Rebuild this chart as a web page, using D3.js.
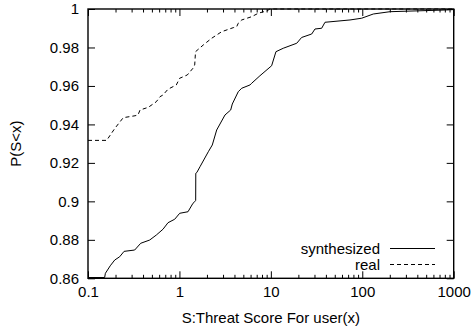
<!DOCTYPE html>
<html>
<head>
<meta charset="utf-8">
<script src="https://cdn.jsdelivr.net/npm/d3@7"></script>
<style>
  body { margin: 0; background: #fff; }
  text { font-family: "Liberation Sans", Arial, Helvetica, sans-serif; fill: #000; }
</style>
</head>
<body>
<div id="chart"></div>
<script>
// data: [score, P(S<x)]
const synthesized = [
  [0.1, 0.8604], [0.152, 0.8604], [0.155, 0.8626], [0.175, 0.8665], [0.196, 0.8695],
  [0.222, 0.8712], [0.248, 0.874], [0.324, 0.8747], [0.377, 0.8782], [0.473, 0.8799],
  [0.559, 0.8825], [0.661, 0.8855], [0.75, 0.8889], [0.888, 0.8907], [1.007, 0.8938],
  [1.241, 0.8946], [1.407, 0.899], [1.469, 0.8998], [1.506, 0.9005], [1.51, 0.9146],
  [1.55, 0.9150], [1.679, 0.918], [2.07, 0.9258], [2.288, 0.9293], [2.556, 0.9371],
  [3.15, 0.9449], [3.637, 0.9475], [3.787, 0.9506], [4.4, 0.957], [4.8, 0.9588],
  [5.91, 0.9605], [6.17, 0.9614], [7.6, 0.9653], [10.2, 0.9705], [11.37, 0.9778],
  [13.68, 0.9796], [19.2, 0.9822], [21.7, 0.9852], [27.97, 0.987], [30.4, 0.9896],
  [35.97, 0.99], [39.1, 0.9931], [73.4, 0.9943], [98.5, 0.9952], [131.9, 0.9974],
  [200.9, 0.9986], [837.8, 0.9995], [1000, 0.9997]
];
const real = [
  [0.1, 0.9317], [0.16, 0.9317], [0.197, 0.938], [0.243, 0.9435], [0.327, 0.9445],
  [0.352, 0.9449], [0.371, 0.9475], [0.457, 0.9489], [0.559, 0.9518], [0.613, 0.9544],
  [0.661, 0.9553], [0.75, 0.9583], [0.924, 0.9605], [1.007, 0.964], [1.219, 0.9657],
  [1.407, 0.9692], [1.469, 0.9709], [1.5, 0.9778], [1.824, 0.9813], [2.254, 0.9848],
  [2.9, 0.9882], [3.88, 0.9903], [4.23, 0.9908], [4.4, 0.9926], [4.8, 0.9943],
  [6.17, 0.996], [7.29, 0.9978], [8.995, 0.999], [9.78, 1.0], [1000, 1.0]
];
const xMajor = [0.1, 1, 10, 100, 1000];
const yTicks = [0.86, 0.88, 0.9, 0.92, 0.94, 0.96, 0.98, 1];
const seriesNames = ["synthesized", "real"];

const W = 474, H = 331;
const m = {left: 88, right: 20.3, top: 9, bottom: 52.7};

const svg = d3.select("#chart").append("svg")
  .attr("width", W).attr("height", H);

const x = d3.scaleLog().domain([0.1, 1000]).range([m.left, W - m.right]);
const y = d3.scaleLinear().domain([0.86, 1]).range([H - m.bottom, m.top]);

// minor ticks 2..9 per decade
const xMinor = [];
xMajor.slice(0, -1).forEach(function (d) {
  for (let k = 2; k < 10; k++) xMinor.push(d * k);
});

const fmt = d => d3.format("~g")(d);
const fontSize = "15px";

function noDomain(g) { g.select(".domain").remove(); }

// bottom axis
svg.append("g")
  .attr("transform", "translate(0," + y.range()[0] + ")")
  .call(d3.axisBottom(x).tickValues(xMajor).tickFormat(fmt).tickSize(-7).tickPadding(8))
  .call(noDomain)
  .call(g => g.selectAll("text").style("font-size", fontSize).attr("font-family", null));
svg.append("g")
  .attr("transform", "translate(0," + y.range()[0] + ")")
  .call(d3.axisBottom(x).tickValues(xMinor).tickFormat("").tickSize(-3.5))
  .call(noDomain);
// top mirror
svg.append("g")
  .attr("transform", "translate(0," + m.top + ")")
  .call(d3.axisTop(x).tickValues(xMajor).tickFormat("").tickSize(-7))
  .call(noDomain);
svg.append("g")
  .attr("transform", "translate(0," + m.top + ")")
  .call(d3.axisTop(x).tickValues(xMinor).tickFormat("").tickSize(-3.5))
  .call(noDomain);
// left axis
svg.append("g")
  .attr("transform", "translate(" + m.left + ",0)")
  .call(d3.axisLeft(y).tickValues(yTicks).tickFormat(fmt).tickSize(-7).tickPadding(9))
  .call(noDomain)
  .call(g => g.selectAll("text").style("font-size", fontSize).attr("font-family", null));
// right mirror
svg.append("g")
  .attr("transform", "translate(" + (W - m.right) + ",0)")
  .call(d3.axisRight(y).tickValues(yTicks).tickFormat("").tickSize(-7))
  .call(noDomain);

svg.selectAll(".tick line").attr("stroke", "#000").attr("stroke-width", 1);

// frame
svg.append("rect")
  .attr("x", m.left).attr("y", m.top)
  .attr("width", W - m.right - m.left).attr("height", H - m.bottom - m.top)
  .attr("fill", "none").attr("stroke", "#000").attr("stroke-width", 1.4);

const line = d3.line().x(d => x(d[0])).y(d => y(d[1]));

svg.append("path").datum(synthesized)
  .attr("d", line).attr("fill", "none").attr("stroke", "#000").attr("stroke-width", 1);
svg.append("path").datum(real)
  .attr("d", line).attr("fill", "none").attr("stroke", "#000").attr("stroke-width", 1)
  .attr("stroke-dasharray", "4,3");

// legend
const legend = svg.append("g");
seriesNames.forEach(function (name, i) {
  const ly = 248.5 + i * 16;
  legend.append("text").attr("x", 380).attr("y", ly).attr("dy", "0.35em")
    .attr("text-anchor", "end").style("font-size", fontSize).text(name);
  legend.append("line").attr("x1", 390).attr("x2", 435).attr("y1", ly).attr("y2", ly)
    .attr("stroke", "#000").attr("stroke-width", 1)
    .attr("stroke-dasharray", i === 1 ? "4,3" : null);
});

// axis labels
svg.append("text")
  .attr("x", (m.left + W - m.right) / 2).attr("y", 323)
  .attr("text-anchor", "middle").style("font-size", fontSize)
  .text("S:Threat Score For user(x)");
svg.append("text")
  .attr("transform", "translate(21," + (m.top + (H - m.bottom - m.top) / 2) + ") rotate(-90)")
  .attr("text-anchor", "middle").style("font-size", fontSize)
  .text("P(S<x)");
</script>
</body>
</html>
